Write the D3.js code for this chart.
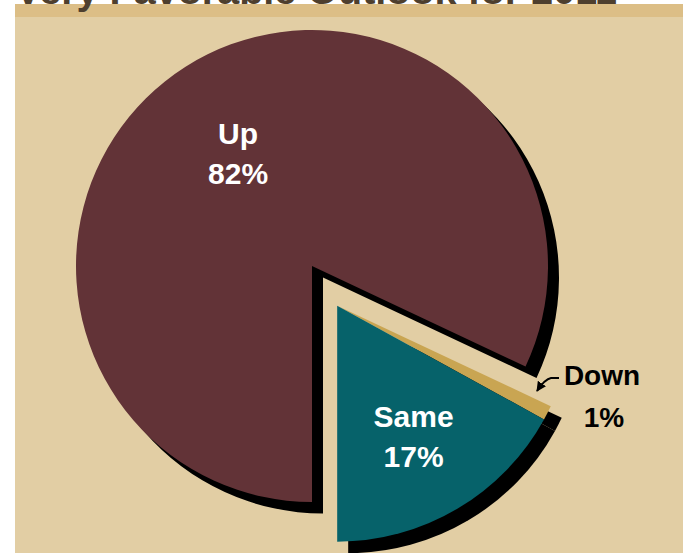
<!DOCTYPE html>
<html>
<head>
<meta charset="utf-8">
<script src="https://cdn.jsdelivr.net/npm/d3@7"></script>
<style>
  body { margin: 0; background: #fff; }
  svg { display: block; }
</style>
</head>
<body>
<div id="chart"></div>
<script>
// chart data
var categories = ["Up", "Down", "Same"];
var shares = [82, 1, 17];
var shareLabels = ["82%", "1%", "17%"];
var titleText = "Very Favorable Outlook for 2011";

var width = 683, height = 553;

let svg = d3.select("#chart")
    .append("svg")
    .attr("width", width)
    .attr("height", height);

// background panel + band
svg.append("rect")
    .attr("x", 15).attr("y", 17)
    .attr("width", width - 15).attr("height", height - 17)
    .attr("fill", "#e2cea4");
svg.append("rect")
    .attr("x", 15).attr("y", 4)
    .attr("width", width - 15).attr("height", 13)
    .attr("fill", "#dcbe86");

// title (cut off at the top, as in the source)
svg.append("text")
    .attr("x", 15).attr("y", 4)
    .attr("textLength", 602)
    .attr("lengthAdjust", "spacingAndGlyphs")
    .style("font-family", "'Liberation Sans', Arial, sans-serif")
    .style("font-weight", "bold")
    .style("font-size", "38px")
    .attr("fill", "#4e3f2e")
    .text(titleText);

var cx = 312, cy = 266, radius = 236;
var explode = 47;
var shadow = { x: 11, y: 11.5 };

var color = d3.scaleOrdinal()
    .domain(categories)
    .range(["#623337", "#c9a552", "#06626a"]);

var pie = d3.pie()
    .sort(null)
    .startAngle(Math.PI)
    .endAngle(3 * Math.PI)
    .value(function (d) { return d.value; });

var arcs = pie(categories.map(function (c, i) {
    return { name: c, value: shares[i], label: shareLabels[i] };
}));

var arc = d3.arc().innerRadius(0).outerRadius(radius);

// Down + Same pulled out together
var midOut = (arcs[1].startAngle + arcs[2].endAngle) / 2;
function offset(d) {
    if (d.data.name == "Up") return [0, 0];
    return [explode * Math.sin(midOut), -explode * Math.cos(midOut)];
}

let g = svg.append("g").attr("transform", "translate(" + cx + "," + cy + ")");

// drop shadows first
g.selectAll("path.shadow")
    .data(arcs)
    .enter()
    .append("path")
    .attr("class", "shadow")
    .attr("d", arc)
    .attr("fill", "#000")
    .attr("transform", function (d) {
        var o = offset(d);
        return "translate(" + (o[0] + shadow.x) + "," + (o[1] + shadow.y) + ")";
    });

g.selectAll("path.slice")
    .data(arcs)
    .enter()
    .append("path")
    .attr("class", "slice")
    .attr("d", arc)
    .attr("fill", function (d) { return color(d.data.name); })
    .attr("transform", function (d) {
        var o = offset(d);
        return "translate(" + o[0] + "," + o[1] + ")";
    });

// labels inside the big slices
var labelRadius = { "Up": 125, "Same": 150 };
var labelNudge = { "Up": [-7, -6], "Same": [0, 2] };
var inside = arcs.filter(function (d) { return labelRadius[d.data.name]; });

var lab = g.selectAll("g.label")
    .data(inside)
    .enter()
    .append("g")
    .attr("class", "label")
    .attr("transform", function (d) {
        var r = labelRadius[d.data.name];
        var c = d3.arc().innerRadius(r).outerRadius(r).centroid(d);
        var o = offset(d);
        var n = labelNudge[d.data.name];
        return "translate(" + (c[0] + o[0] + n[0]) + "," + (c[1] + o[1] + n[1]) + ")";
    })
    .style("font-family", "'Liberation Sans', Arial, sans-serif")
    .style("font-weight", "bold")
    .style("font-size", "30px")
    .attr("fill", "#fff")
    .attr("text-anchor", "middle");

lab.append("text").attr("y", -10).text(function (d) { return d.data.name; });
lab.append("text").attr("y", 30).text(function (d) { return d.data.label; });

// Down label outside with arrow
var down = arcs[1];
var dl = svg.append("g")
    .attr("transform", "translate(" + (cx + 290) + "," + (cy + 119) + ")")
    .style("font-family", "'Liberation Sans', Arial, sans-serif")
    .style("font-weight", "bold")
    .style("font-size", "28px")
    .attr("fill", "#000")
    .attr("text-anchor", "middle");
dl.append("text").attr("x", 0).text(down.data.name);
dl.append("text").attr("x", 2).attr("y", 42).text(down.data.label);

svg.append("defs").append("marker")
    .attr("id", "head")
    .attr("viewBox", "0 0 10 10")
    .attr("refX", 9).attr("refY", 5)
    .attr("markerWidth", 5).attr("markerHeight", 5)
    .attr("markerUnits", "strokeWidth")
    .attr("orient", "auto")
    .append("path")
    .attr("d", "M0,0 L10,5 L0,10 Z")
    .attr("fill", "#000");

svg.append("path")
    .attr("d", "M559,378 L551,378 Q545,379 537,391")
    .attr("fill", "none")
    .attr("stroke", "#000")
    .attr("stroke-width", 2)
    .attr("marker-end", "url(#head)");
</script>
</body>
</html>
